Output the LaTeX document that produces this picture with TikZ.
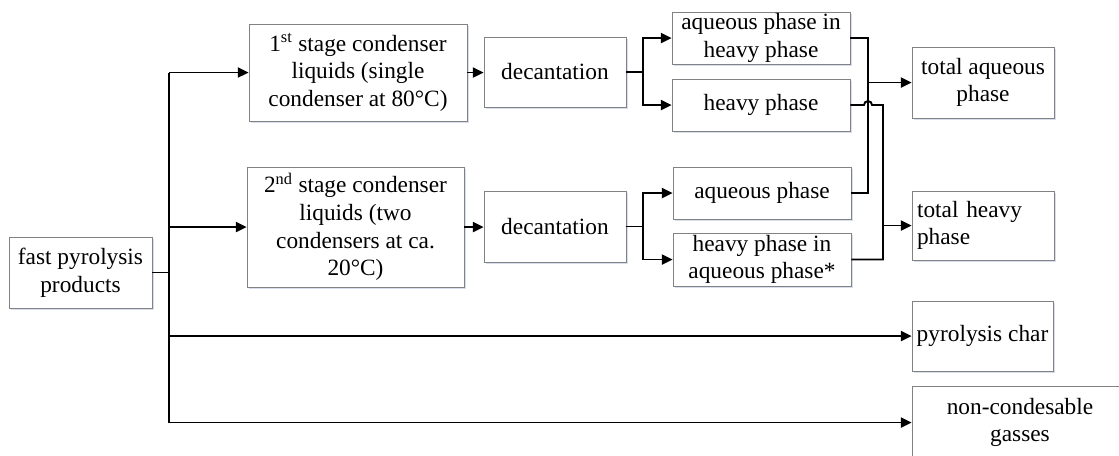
\documentclass[tikz,border=0pt]{standalone}
\usepackage{fontspec}
\setmainfont{Liberation Serif}
\usetikzlibrary{arrows.meta,shadows,calc}
\definecolor{boxgray}{RGB}{130,130,130}
\definecolor{shadowblue}{RGB}{205,214,232}
\begin{document}
\begin{tikzpicture}[x=0.75pt,y=-0.75pt,
  bx/.style 2 args={draw=boxgray, line width=0.6pt, fill=white,
    minimum width=#1*0.75pt, minimum height=#2*0.75pt, inner sep=0pt, align=center,
    font=\fontsize{17.5}{20.8}\selectfont,
    drop shadow={shadow xshift=1.2pt, shadow yshift=-1.8pt, fill=shadowblue, opacity=0.8}},
  ln/.style={line width=1.4pt, black},
  arr/.style={ln, -{Triangle[length=8pt,width=7.5pt]}}]
\useasboundingbox (0,0) rectangle (1119,455);
\clip (0,0) rectangle (1119,455);
\node[bx={143}{71}] (src) at (80.5,272.5) {fast pyrolysis\\products};
\node[bx={218}{97}] (s1) at (358,72.5) {1\textsuperscript{st} stage condenser\\liquids (single\\condenser at 80°C)};
\node[bx={217}{120}] (s2) at (355.5,227) {2\textsuperscript{nd} stage condenser\\liquids (two\\condensers at ca.\\20°C)};
\node[bx={142}{70}] (d1) at (555,72) {decantation};
\node[bx={142}{71}] (d2) at (555,226.5) {decantation};
\node[bx={178}{52}] (a1) at (761,38) {aqueous phase in\\heavy phase};
\node[bx={178}{52}] (h1) at (761,105) {heavy phase};
\node[bx={178}{52}] (a2) at (762,193) {aqueous phase};
\node[bx={178}{53}] (h2) at (762,259.5) {heavy phase in\\aqueous phase*};
\node[bx={142}{71}] (ta) at (983,82.5) {total aqueous\\phase};
\node[bx={142}{69}, text width=99pt, inner xsep=3.75pt, align=left] (th) at (983,225.5) {total heavy\\phase};
\node[bx={141}{70}] (pc) at (982.5,336) {pyrolysis char};
\node[bx={216}{73}] (ng) at (1020,422.5) {non-condesable\\gasses};
% trunk
\coordinate (tr) at (169,0);
\coordinate (sp) at (643,0);
\coordinate (m1) at (868,0);
\coordinate (m2) at (883,0);
\draw[ln] (src.east) -- (src.east -| tr);
\draw[ln] (tr |- s1.west) -- (tr |- ng.west);
\draw[arr] (tr |- s1.west) -- (s1.west);
\draw[arr] (tr |- s2.west) -- (s2.west);
\draw[arr] (tr |- pc.west) -- (pc.west);
\draw[arr] (tr |- ng.west) -- (ng.west);
% to decantation
\draw[arr] (s1.east) -- (s1.east -| d1.west);
\draw[arr] (s2.east) -- (s2.east -| d2.west);
% splits
\draw[arr] (d1.east) -- (sp |- d1.east) |- (a1.west);
\draw[arr] (sp |- d1.east) |- (h1.west);
\draw[arr] (d2.east) -- (sp |- d2.east) |- (a2.west);
\draw[arr] (sp |- d2.east) |- (h2.west);
% merges
\draw[ln] (a1.east) -- (m1 |- a1.east) -- (m1 |- a2.east) -- (a2.east);
\draw[arr] (m1 |- ta.west) -- (ta.west);
\draw[ln] (h1.east) -- ($(m1 |- h1.east)+(-4,0)$) arc[start angle=180, end angle=0, radius=3pt] -- (m2 |- h1.east) -- (m2 |- h2.east) -- (h2.east);
\draw[arr] (m2 |- th.west) -- (th.west);
\end{tikzpicture}
\end{document}
